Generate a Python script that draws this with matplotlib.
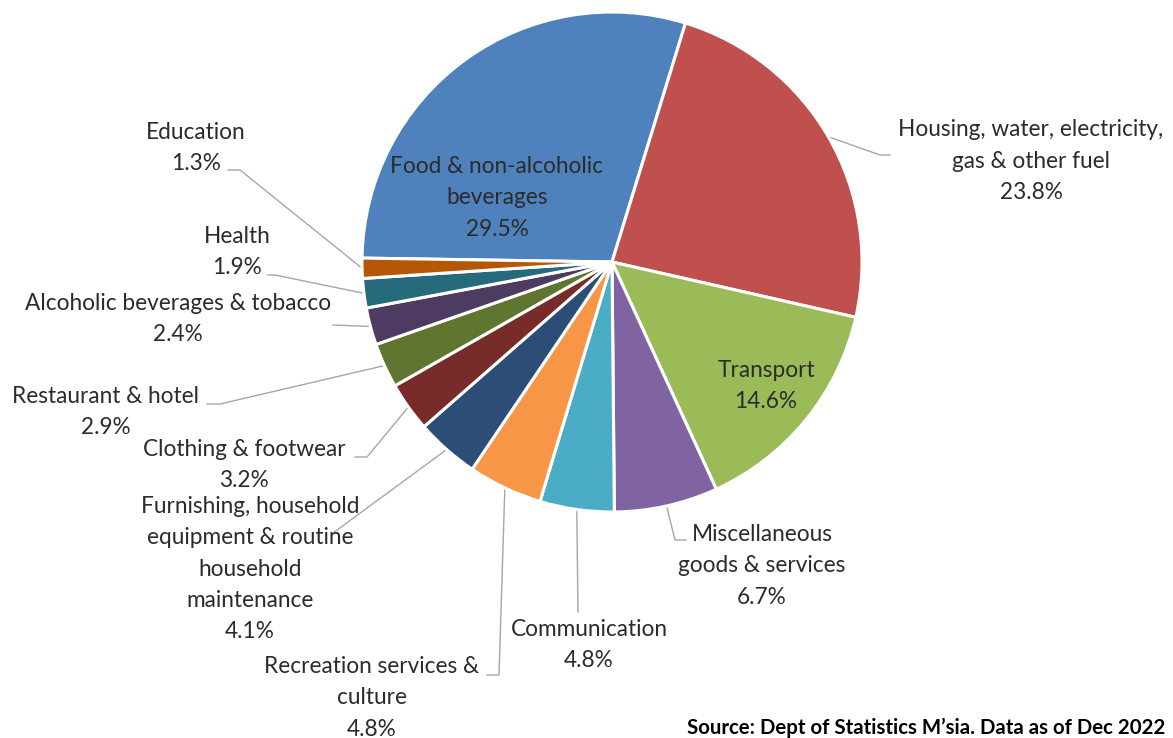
import matplotlib.pyplot as plt
import numpy as np

# data
categories = [
    "Food & non-alcoholic\nbeverages",
    "Housing, water, electricity,\ngas & other fuel",
    "Transport",
    "Miscellaneous\ngoods & services",
    "Communication",
    "Recreation services &\nculture",
    "Furnishing, household\nequipment & routine\nhousehold\nmaintenance",
    "Clothing & footwear",
    "Restaurant & hotel",
    "Alcoholic beverages & tobacco",
    "Health",
    "Education",
]
shares = [29.5, 23.8, 14.6, 6.7, 4.8, 4.8, 4.1, 3.2, 2.9, 2.4, 1.9, 1.3]
colors = ["#4F81BD", "#C0504D", "#9BBB59", "#8064A2", "#4BACC6", "#F79646",
          "#2C4D75", "#772C2A", "#5F7530", "#4D3B62", "#276A7C", "#B65708"]
source_note = "Source: Dept of Statistics M\u2019sia. Data as of Dec 2022"

# layout (pixel coords, y from top)
W, H = 1173, 738
cx, cy, R = 612, 262, 250
# (text centre x, text centre y, leader elbow points or None for inside labels)
label_layout = [
    (497, 198, None),
    (1031, 161, [(880, 155), (890, 155)]),
    (766, 386, None),
    (762, 566, [(675, 540), (686, 540)]),
    (589, 645, [(578, 612)]),
    (372, 698, [(499, 675), (487, 675)]),
    (250, 569, [(333, 533)]),
    (244, 465, [(367, 457), (355, 457)]),
    (106, 412, [(220, 404), (207, 404)]),
    (178, 319, [(333, 325)]),
    (237, 252, [(275, 275), (268, 275)]),
    (196, 148, [(240, 170), (228, 170)]),
]

plt.rcParams['font.family'] = ['Lato', 'DejaVu Sans']
text_color = "#2b2b2b"
line_color = "#A6A6A6"

fig = plt.figure(figsize=(W / 100, H / 100), dpi=100)
ax = fig.add_axes([0, 0, 1, 1])

wedges, _ = ax.pie(shares, colors=colors, startangle=179.1, counterclock=False,
                   center=(cx, H - cy), radius=R,
                   wedgeprops=dict(edgecolor="white", linewidth=2.2))
ax.set_xlim(0, W)
ax.set_ylim(0, H)
ax.set_aspect('equal')
ax.axis('off')

for w, name, val, (tx, ty, elbows) in zip(wedges, categories, shares, label_layout):
    ax.text(tx, H - ty, f"{name}\n{val:.1f}%", ha='center', va='center',
            fontsize=16.3, color=text_color, linespacing=1.6)
    if elbows:
        mid = np.deg2rad((w.theta1 + w.theta2) / 2)
        xs = [cx + R * np.cos(mid)] + [p[0] for p in elbows]
        ys = [H - cy + R * np.sin(mid)] + [H - p[1] for p in elbows]
        ax.plot(xs, ys, color=line_color, linewidth=1, zorder=0)

ax.text(1165, H - 728, source_note, ha='right', va='center',
        fontsize=14.7, fontweight='bold', color='black')

fig.savefig("out.png", dpi=100)
